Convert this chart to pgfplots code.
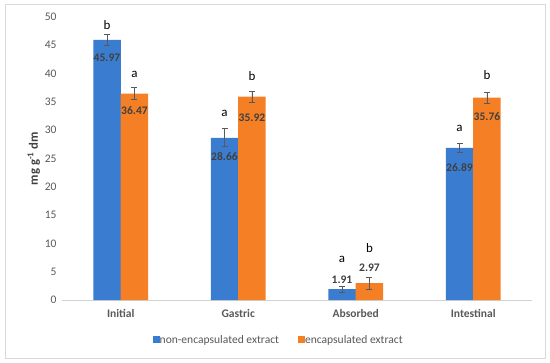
\documentclass[border=0pt]{standalone}
\usepackage{pgfplots}
\pgfplotsset{compat=1.18}
\usepackage{pgfplotstable}
\usepackage{fontspec}
\setmainfont{Carlito}
\definecolor{cblue}{HTML}{3A7DD0}
\definecolor{corange}{HTML}{F57F25}
\definecolor{tickgray}{HTML}{595959}
\definecolor{lblgray}{HTML}{404040}
\newcommand\fs{\fontsize{11.6}{13.5}\selectfont}
\pgfplotstableread{
x       v     e
-0.117  45.97 0.9
0.883   28.66 1.6
1.883   1.91  0.5
2.883   26.89 0.85
}\blue
\pgfplotstableread{
x       v     e
0.117   36.47 1.1
1.117   35.92 1.0
2.117   2.97  1.0
3.117   35.76 1.0
}\orange
\pgfplotstableread{
x       y     l
-0.117  42.8  45.97
0.883   25.3  28.66
1.883   3.55  1.91
2.883   23.4  26.89
}\bluelab
\pgfplotstableread{
x       y     l
0.117   33.4  36.47
1.117   32.2  35.92
2.117   5.75  2.97
3.117   32.4  35.76
}\orangelab
\pgfplotstableread{
x       y     l
-0.117  48.6  b
0.883   33.0  a
1.883   7.2   a
2.883   30.3  a
}\blueletter
\pgfplotstableread{
x       y     l
0.117   39.9  a
1.117   39.5  b
2.117   9.2   b
3.117   39.8  b
}\orangeletter
\begin{document}
\begin{tikzpicture}
\useasboundingbox (-62bp,-63bp) rectangle (488bp,300bp);
\draw[gray!30, line width=0.8bp] (-57bp,-58bp) rectangle (483bp,296bp);
\begin{axis}[
  at={(0,0)}, anchor=south west,
  scale only axis, width=470bp, height=283bp,
  xmin=-0.5, xmax=3.5, ymin=0, ymax=50,
  xtick={0,1,2,3}, xticklabels={Initial,Gastric,Absorbed,Intestinal},
  ytick={0,5,...,50},
  major tick length=0pt,
  axis x line=bottom, axis y line=left,
  x axis line style={draw=gray!35, line width=0.8bp, -},
  y axis line style={draw=none},
  /pgf/number format/assume math mode=true,
  yticklabel style={font=\fs, color=tickgray, xshift=-2bp},
  xticklabel style={font=\fs\bfseries, color=tickgray, yshift=-6bp},
  ylabel={mg g\textsuperscript{-1} dm},
  every axis y label/.style={at={(axis description cs:-0.06,0.5)}, rotate=90, anchor=center,
    font=\fontsize{12.8}{15}\selectfont\bfseries, color=lblgray},
  legend style={at={(0.461,-0.141)}, anchor=center, draw=none, font=\fs, text=tickgray,
    /tikz/every odd column/.append style={column sep=-2bp}},
  legend columns=2,
  legend image code/.code={\fill[#1,draw=none] (0bp,-3.5bp) rectangle (7bp,3.5bp);},
  clip=false,
]
\addplot[ybar, bar width=27.5bp, bar shift=0pt, fill=cblue, draw=none,
  error bars/.cd, y dir=both, y explicit,
  error bar style={color=tickgray, line width=0.7bp},
  error mark options={rotate=90, mark size=3bp, color=tickgray, line width=0.7bp}]
  table[x=x, y=v, y error=e] {\blue};
\addlegendentry{non-encapsulated extract\rule{17bp}{0pt}}
\addplot[ybar, bar width=27.5bp, bar shift=0pt, fill=corange, draw=none,
  error bars/.cd, y dir=both, y explicit,
  error bar style={color=tickgray, line width=0.7bp},
  error mark options={rotate=90, mark size=3bp, color=tickgray, line width=0.7bp}]
  table[x=x, y=v, y error=e] {\orange};
\addlegendentry{encapsulated extract}
\addplot[draw=none, mark=none, forget plot, nodes near coords, point meta=explicit symbolic,
  nodes near coords style={anchor=center, font=\fs\bfseries, color=lblgray}]
  table[x=x, y=y, meta=l] {\bluelab};
\addplot[draw=none, mark=none, forget plot, nodes near coords, point meta=explicit symbolic,
  nodes near coords style={anchor=center, font=\fs\bfseries, color=lblgray}]
  table[x=x, y=y, meta=l] {\orangelab};
\addplot[draw=none, mark=none, forget plot, nodes near coords, point meta=explicit symbolic,
  nodes near coords style={anchor=center, font=\fontsize{13}{15}\selectfont, color=black}]
  table[x=x, y=y, meta=l] {\blueletter};
\addplot[draw=none, mark=none, forget plot, nodes near coords, point meta=explicit symbolic,
  nodes near coords style={anchor=center, font=\fontsize{13}{15}\selectfont, color=black}]
  table[x=x, y=y, meta=l] {\orangeletter};
\end{axis}
\end{tikzpicture}
\end{document}
